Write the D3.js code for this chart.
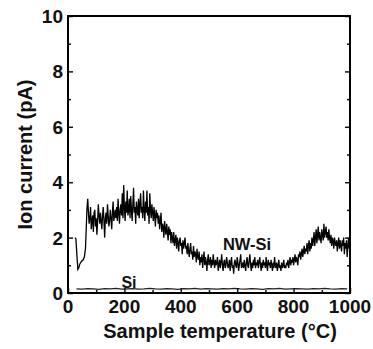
<!DOCTYPE html>
<html><head><meta charset="utf-8">
<script src="https://cdn.jsdelivr.net/npm/d3@7"></script>
<style>body{margin:0;background:#fff}svg{display:block}text{font-family:"Liberation Sans",Arial,sans-serif;font-weight:bold;fill:#111}</style>
</head><body><svg id="c" width="373" height="349"></svg>
<script>
// NW-Si initial segment (explicit temperatures)
const nwStartTemp = [25, 28, 32, 35, 38, 42, 48, 54, 58, 62, 65, 67];
const nwStartCurrent = [2.0, 1.95, 1.3, 0.85, 0.9, 1.05, 1.15, 1.2, 1.3, 1.6, 2.4, 3.0];
// NW-Si main trace sampled every 2.5 °C from 70 to 1000
const nwMainStart = 70, nwMainStep = 2.5;
const nwMainCurrent = [
3.4,2.9,2.5,2.7,3.1,2.3,2.6,2.8,2.2,2.9,3.0,2.4,2.7,2.1,2.6,3.2,2.8,2.5,2.9,2.6,
2.3,2.8,3.1,2.6,2.0,2.7,2.9,2.5,3.2,2.8,2.4,2.6,3.0,2.7,2.3,2.9,3.3,2.6,2.8,3.0,
2.7,3.1,2.6,3.4,2.9,2.5,3.0,3.2,2.8,3.6,2.7,3.9,3.1,2.6,3.3,2.9,3.7,2.8,3.0,3.4,
2.7,3.5,3.0,2.6,3.2,3.8,2.9,3.1,2.5,3.3,3.0,2.8,3.4,2.7,3.2,3.6,2.9,3.1,2.7,3.7,
3.0,2.6,3.3,2.9,3.7,2.8,3.1,2.5,3.6,3.0,2.7,3.2,2.9,2.6,3.1,2.8,2.4,3.0,2.7,2.9,
2.5,2.8,2.3,2.6,2.9,2.2,2.5,2.4,2.0,2.6,2.3,2.1,2.5,2.2,1.9,2.4,2.1,2.3,1.8,2.2,
2.0,1.8,2.2,1.7,1.9,2.1,1.6,2.0,1.8,1.5,1.9,2.0,1.7,1.8,1.4,1.9,1.6,1.8,2.0,1.6,
1.7,1.4,1.8,1.5,1.3,1.6,1.8,1.4,1.5,1.2,1.7,1.3,1.5,1.4,1.1,1.6,1.3,1.2,1.5,1.0,
1.3,1.1,1.4,0.9,1.2,1.5,1.0,1.3,1.1,0.8,1.2,1.4,1.0,1.1,1.3,0.9,1.2,1.0,1.4,1.1,
0.9,1.2,1.0,1.1,1.3,0.8,1.0,1.2,0.9,1.1,1.4,1.0,0.8,1.1,1.2,0.9,1.0,1.3,1.1,0.9,
1.0,1.2,0.8,1.1,1.3,0.9,1.0,0.7,1.1,1.2,1.0,0.9,1.3,1.1,0.8,1.0,1.2,1.4,0.9,1.0,
1.1,0.9,1.2,1.0,0.8,1.1,1.3,1.0,0.9,1.2,1.4,1.0,0.8,1.1,0.9,1.2,1.0,1.3,0.9,1.1,
1.0,1.2,0.9,1.1,1.3,1.0,0.8,1.1,0.9,1.2,1.0,1.1,0.9,1.3,1.0,0.8,1.2,1.0,1.1,0.9,
1.2,1.0,0.8,1.1,0.9,1.3,1.0,0.9,1.1,0.8,1.0,1.2,0.9,1.0,0.8,1.1,0.9,1.0,1.2,0.9,
1.0,0.9,1.1,1.0,1.2,0.9,1.1,1.3,1.0,1.2,1.1,1.3,1.0,1.2,1.4,1.1,1.3,1.2,1.0,1.4,
1.3,1.5,1.2,1.4,1.6,1.3,1.5,1.7,1.4,1.6,1.5,1.8,1.4,1.7,1.9,1.5,1.8,1.6,2.0,1.7,
1.9,2.2,1.7,2.0,2.3,1.8,2.1,2.4,1.9,2.2,2.0,1.8,2.3,2.1,1.9,2.5,2.0,2.2,2.4,2.0,
2.2,1.9,2.3,2.0,1.8,2.1,1.7,2.0,1.9,1.6,2.0,1.8,1.7,1.9,1.5,1.8,2.0,1.6,1.9,1.7,
1.5,1.9,1.7,2.0,1.4,1.8,1.6,1.9,1.3,1.7,2.0,1.6,1.8];
// Si trace sampled every 20 °C from 30 to 990
const siStart = 30, siStep = 20;
const siCurrent = [0.15,0.14,0.16,0.15,0.13,0.16,0.15,0.17,0.14,0.15,
0.16,0.14,0.15,0.17,0.15,0.14,0.16,0.15,0.13,0.16,
0.15,0.17,0.14,0.16,0.15,0.14,0.16,0.15,0.17,0.15,
0.14,0.16,0.15,0.13,0.16,0.15,0.17,0.14,0.15,0.16,
0.15,0.14,0.16,0.15,0.17,0.15,0.14,0.16,0.15];
const xTicks = [0, 200, 400, 600, 800, 1000];
const yTicks = [0, 2, 4, 6, 8, 10];
const labels = {x: "Sample temperature (\u00B0C)", y: "Ion current (pA)", nw: "NW-Si", si: "Si"};

const nwData = nwStartTemp.map((t,i)=>[t, nwStartCurrent[i]])
  .concat(nwMainCurrent.map((v,i)=>[nwMainStart + i*nwMainStep, v]));
const siData = siCurrent.map((v,i)=>[siStart + i*siStep, v]);

const L=68, R=350, T=16, B=293;
const x = d3.scaleLinear().domain([0,1000]).range([L,R]);
const y = d3.scaleLinear().domain([0,10]).range([B,T]);
const svg = d3.select("#c");

const line = d3.line().x(d=>x(d[0])).y(d=>y(d[1]));
svg.append("path").datum(siData).attr("d",line).attr("fill","none").attr("stroke","#222").attr("stroke-width",1.2);
svg.append("path").datum(nwData).attr("d",line).attr("fill","none").attr("stroke","#000").attr("stroke-width",1.3);

// axes with inward ticks
const gx = svg.append("g").attr("transform",`translate(0,${B})`)
  .call(d3.axisBottom(x).tickValues(d3.range(0,1001,100)).tickSize(-4).tickFormat(""));
const gy = svg.append("g").attr("transform",`translate(${L},0)`)
  .call(d3.axisLeft(y).tickValues(d3.range(0,10.1,1)).tickSize(-4).tickFormat(""));
const gr = svg.append("g").attr("transform",`translate(${R},0)`)
  .call(d3.axisRight(y).tickValues(d3.range(0,10.1,1)).tickSize(-4).tickFormat(""));
[gx,gy,gr].forEach(g=>{g.select(".domain").remove(); g.selectAll("line").attr("stroke","#111").attr("stroke-width",1.5);});
gy.selectAll(".tick line").attr("x2",(d)=> d%2===0?5:3);
gr.selectAll(".tick line").attr("x2",(d)=> d%2===0?-5:-3);
gx.selectAll(".tick line").attr("y2",(d)=> d%200===0?-5:-3);

svg.append("rect").attr("x",L).attr("y",T).attr("width",R-L).attr("height",B-T)
  .attr("fill","none").attr("stroke","#000").attr("stroke-width",2);

svg.selectAll(".xl").data(xTicks).enter().append("text")
  .attr("x",d=>x(d)).attr("y",B+20).attr("text-anchor","middle").attr("font-size",19).text(d=>d);
svg.selectAll(".yl").data(yTicks).enter().append("text")
  .attr("x",L-5).attr("y",d=>y(d)+7).attr("text-anchor","end").attr("font-size",19).text(d=>d);

svg.append("text").attr("x",220).attr("y",338).attr("text-anchor","middle").attr("font-size",20).text(labels.x);
svg.append("text").attr("transform",`translate(32,${(T+B)/2}) rotate(-90)`).attr("text-anchor","middle").attr("font-size",20).text(labels.y);
svg.append("text").attr("x",247).attr("y",250).attr("text-anchor","middle").attr("font-size",16.5).text(labels.nw);
svg.append("text").attr("x",129).attr("y",288).attr("text-anchor","middle").attr("font-size",16).text(labels.si);
</script></body></html>
